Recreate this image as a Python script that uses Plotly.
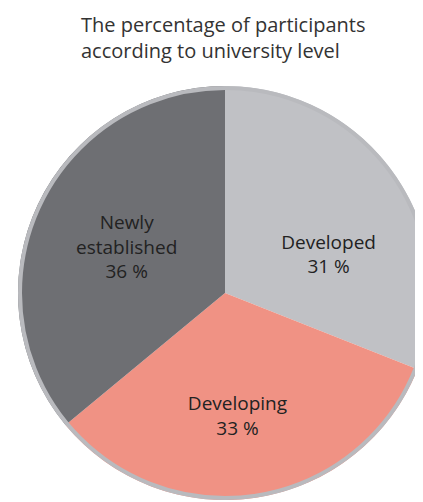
import plotly.graph_objects as go

labels = ["Developed", "Developing", "Newly<br>established"]
values = [31, 33, 36]
colors = ["#C0C1C5", "#F09284", "#6E6F73"]
title_lines = ["The percentage of participants", "according to university level"]

NB = "&nbsp;"
templates = [
    NB + "<br>" + NB + "<br>" + NB * 4 + "%{label}<br>" + NB * 4 + "%{value} %",
    NB + "<br>%{label}" + NB * 2 + "<br>%{value} %" + NB * 2,
    "%{label}<br>%{value} %",
]

fig = go.Figure()
fig.add_trace(go.Pie(
    labels=labels,
    values=values,
    sort=False,
    direction="clockwise",
    rotation=0,
    marker=dict(colors=colors, line=dict(width=0)),
    texttemplate=templates,
    textposition="inside",
    insidetextorientation="horizontal",
    textfont=dict(family="Open Sans", size=19, color="#222222"),
    showlegend=False,
    hoverinfo="label+percent",
))

inset = 2 / 414
fig.add_shape(type="circle", xref="paper", yref="paper",
              x0=inset, x1=1 - inset, y0=inset, y1=1 - inset,
              line=dict(color="#B9BABE", width=4), layer="above")

fig.add_annotation(
    text="<br>".join(title_lines), xref="paper", yref="paper",
    x=(71 - 10) / 414, y=1 + (78 - 1) / 414, xanchor="left", yanchor="top",
    align="left", showarrow=False,
    font=dict(family="Open Sans", size=20, color="#333333"),
)

fig.update_layout(
    width=431, height=502,
    margin=dict(l=10, r=7, t=78, b=10),
    paper_bgcolor="white",
    plot_bgcolor="white",
)

fig.write_html("out.html")
